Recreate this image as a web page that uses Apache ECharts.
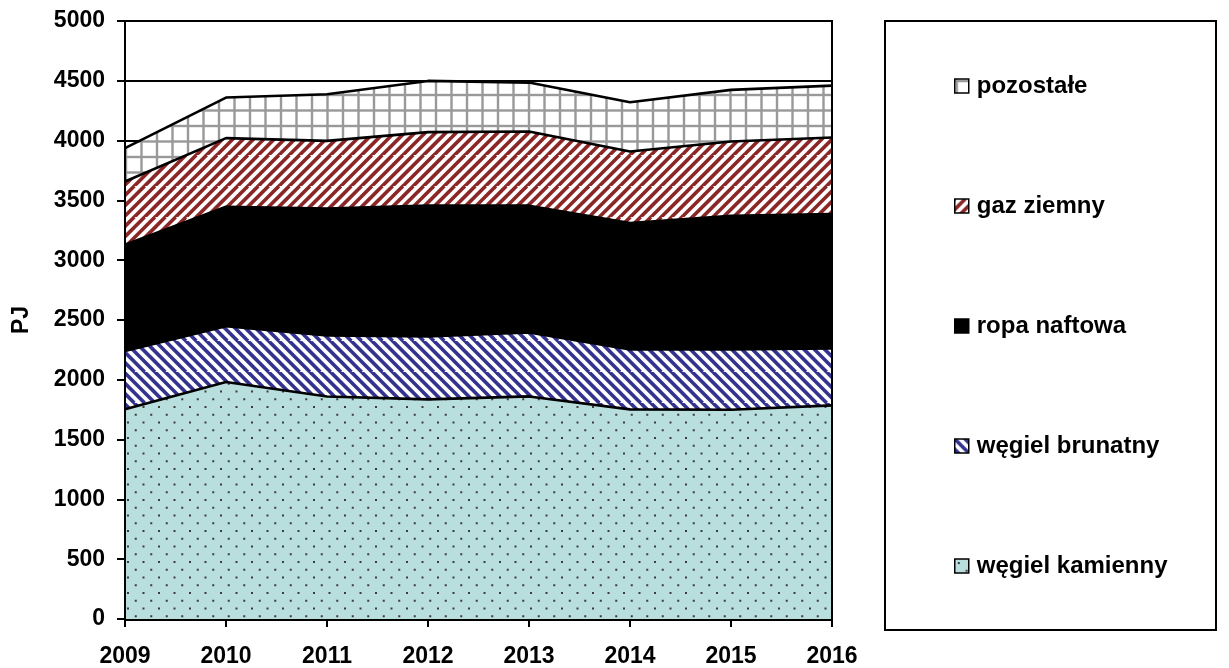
<!DOCTYPE html>
<html>
<head>
<meta charset="utf-8">
<style>
  html, body { margin: 0; padding: 0; background: #fff; }
  #chart { width: 1229px; height: 668px; }
</style>
<script src="https://cdn.jsdelivr.net/npm/echarts@6/dist/echarts.min.js"></script>
</head>
<body>
<div id="chart"></div>
<script>
// Zużycie nośników energii pierwotnej, PJ
const years = ['2009', '2010', '2011', '2012', '2013', '2014', '2015', '2016'];
const wegielKamienny = [1753, 1981, 1860, 1836, 1861, 1753, 1750, 1786];
const wegielBrunatny = [487, 467, 510, 526, 534, 501, 504, 476];
const ropaNaftowa = [890, 999, 1061, 1094, 1061, 1057, 1118, 1124];
const gazZiemny = [528, 574, 567, 615, 620, 598, 621, 640];
const pozostale = [279, 339, 390, 428, 409, 412, 431, 434];
const yTicks = [0, 500, 1000, 1500, 2000, 2500, 3000, 3500, 4000, 4500, 5000];

const FONT = '"Liberation Sans", Arial, sans-serif';
const TILE = 31;

function tile(draw) {
  const c = document.createElement('canvas');
  c.width = TILE; c.height = TILE;
  const ctx = c.getContext('2d');
  draw(ctx);
  return { image: c, repeat: 'repeat' };
}

// kropki na jasnym turkusie
const dotsPattern = tile(ctx => {
  ctx.fillStyle = '#b9dede';
  ctx.fillRect(0, 0, TILE, TILE);
  ctx.fillStyle = '#3c3c3c';
  const step = TILE / 2, row = TILE / 4;
  for (let r = 0; r < 4; r++) {
    const off = (r % 2) ? step / 2 : 0;
    for (let k = 0; k < 2; k++) {
      ctx.fillRect(3 + off + k * step, 3 + r * row, 2, 2);
    }
  }
});

// ukośne paski: dir = 1 dla "/", -1 dla "\"
function stripes(color, dir) {
  return tile(ctx => {
    ctx.fillStyle = '#fff';
    ctx.fillRect(0, 0, TILE, TILE);
    ctx.strokeStyle = color;
    ctx.lineWidth = 3.6;
    const p = TILE / 3;
    for (let k = -6; k <= 9; k++) {
      const c = k * p;
      ctx.beginPath();
      if (dir > 0) { ctx.moveTo(c - TILE, TILE * 2); ctx.lineTo(c + TILE, 0); }
      else { ctx.moveTo(c - TILE, -TILE); ctx.lineTo(c + TILE, TILE); }
      ctx.stroke();
    }
  });
}

const brownStripes = stripes('#8a2626', 1);
const navyStripes = stripes('#33338f', -1);
const blackFill = '#000';

// kratka
const gridPattern = tile(ctx => {
  ctx.fillStyle = '#fff';
  ctx.fillRect(0, 0, TILE, TILE);
  ctx.strokeStyle = '#999';
  ctx.lineWidth = 2.4;
  const s = TILE / 2;
  for (let k = 0; k < 2; k++) {
    const v = 2 + k * s;
    ctx.beginPath(); ctx.moveTo(v, 0); ctx.lineTo(v, TILE); ctx.stroke();
    ctx.beginPath(); ctx.moveTo(0, v); ctx.lineTo(TILE, v); ctx.stroke();
  }
});

function area(name, data, fill) {
  return {
    name: name,
    type: 'line',
    stack: 'total',
    data: data,
    symbol: 'none',
    smooth: false,
    lineStyle: { color: '#000', width: 2.6 },
    itemStyle: { color: fill },
    areaStyle: { color: fill, opacity: 1 },
    emphasis: { disabled: true }
  };
}

const chart = echarts.init(document.getElementById('chart'), null, { renderer: 'canvas' });

const gridLeft = 125, gridTop = 21, gridRight = 397, gridBottom = 48;

chart.setOption({
  animation: false,
  backgroundColor: '#fff',
  grid: { left: gridLeft, right: gridRight, top: gridTop, bottom: gridBottom },
  xAxis: {
    type: 'category',
    data: years,
    boundaryGap: false,
    axisLine: { lineStyle: { color: '#000', width: 2 } },
    axisTick: { length: 8, lineStyle: { color: '#000', width: 2 } },
    axisLabel: { color: '#000', fontFamily: FONT, fontWeight: 'bold', fontSize: 23, margin: 26 },
    splitLine: { show: false }
  },
  yAxis: {
    type: 'value',
    min: yTicks[0],
    max: yTicks[yTicks.length - 1],
    interval: yTicks[1] - yTicks[0],
    name: 'PJ',
    nameLocation: 'middle',
    nameGap: 92,
    nameRotate: 90,
    nameTextStyle: { color: '#000', fontFamily: FONT, fontWeight: 'bold', fontSize: 23 },
    axisLine: { show: true, lineStyle: { color: '#000', width: 2 } },
    axisTick: { show: true, length: 8, lineStyle: { color: '#000', width: 2 } },
    axisLabel: {
      color: '#000', fontFamily: FONT, fontWeight: 'bold', fontSize: 23, margin: 20,
      formatter: v => String(v)
    },
    splitLine: { show: true, lineStyle: { color: '#000', width: 2 } }
  },
  legend: {
    orient: 'vertical',
    left: 949,
    top: 69,
    icon: 'rect',
    itemWidth: 14,
    itemHeight: 14,
    itemGap: 96,
    selectedMode: false,
    itemStyle: { borderColor: '#000', borderWidth: 1.5 },
    textStyle: { color: '#000', fontFamily: FONT, fontWeight: 'bold', fontSize: 24, padding: [0, 0, 0, 3] },
    data: ['pozostałe', 'gaz ziemny', 'ropa naftowa', 'węgiel brunatny', 'węgiel kamienny']
  },
  graphic: [
    {
      type: 'rect',
      z: 100,
      silent: true,
      shape: { x: gridLeft, y: gridTop, width: 1229 - gridLeft - gridRight, height: 668 - gridTop - gridBottom },
      style: { fill: 'none', stroke: '#000', lineWidth: 2 }
    },
    {
      type: 'rect',
      z: 100,
      silent: true,
      shape: { x: 885, y: 21, width: 331, height: 609 },
      style: { fill: 'none', stroke: '#000', lineWidth: 2 }
    }
  ],
  series: [
    area('węgiel kamienny', wegielKamienny, dotsPattern),
    area('węgiel brunatny', wegielBrunatny, navyStripes),
    area('ropa naftowa', ropaNaftowa, blackFill),
    area('gaz ziemny', gazZiemny, brownStripes),
    area('pozostałe', pozostale, gridPattern)
  ]
});
</script>
</body>
</html>
